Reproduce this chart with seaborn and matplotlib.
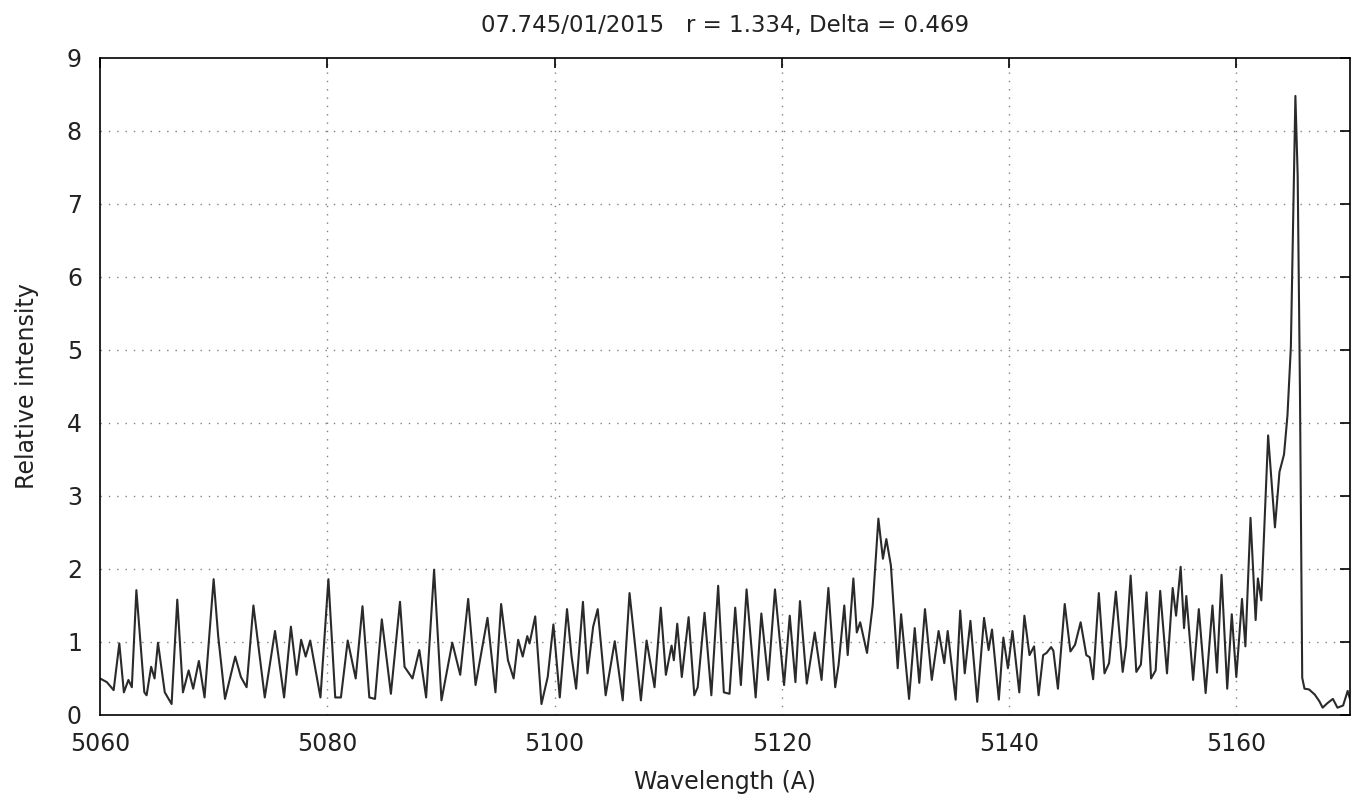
import matplotlib
matplotlib.use("Agg")
import matplotlib.pyplot as plt
import seaborn as sns
import pandas as pd

# Spectrum samples: wavelength (Angstrom) and relative intensity
wavelength = [
    5060.0, 5060.6, 5061.2, 5061.7, 5062.1, 5062.5, 5062.8, 5063.2, 5063.9, 5064.1,
    5064.5, 5064.8, 5065.1, 5065.7, 5066.3, 5066.8, 5067.3, 5067.8, 5068.2, 5068.7,
    5069.2, 5070.0, 5070.4, 5071.0, 5071.9, 5072.4, 5072.9, 5073.5, 5074.5, 5075.4,
    5076.2, 5076.8, 5077.3, 5077.7, 5078.1, 5078.5, 5079.4, 5080.1, 5080.7, 5081.2,
    5081.8, 5082.5, 5083.1, 5083.7, 5084.2, 5084.8, 5085.6, 5086.4, 5086.8, 5087.5,
    5088.1, 5088.7, 5089.4, 5090.05, 5091.0, 5091.7, 5092.4, 5093.05, 5094.1, 5094.8,
    5095.3, 5095.9, 5096.4, 5096.8, 5097.2, 5097.6, 5097.8, 5098.3, 5098.85, 5099.4,
    5099.9, 5100.46, 5101.1, 5101.5, 5101.9, 5102.5, 5102.9, 5103.4, 5103.8, 5104.5,
    5105.3, 5106.0, 5106.6, 5107.6, 5108.1, 5108.8, 5109.35, 5109.8, 5110.3, 5110.5,
    5110.8, 5111.2, 5111.8, 5112.3, 5112.6, 5113.2, 5113.8, 5114.4, 5114.9, 5115.4,
    5115.9, 5116.4, 5116.9, 5117.7, 5118.2, 5118.8, 5119.4, 5120.2, 5120.7, 5121.2,
    5121.6, 5122.2, 5122.9, 5123.5, 5124.1, 5124.7, 5125.0, 5125.5, 5125.8, 5126.3,
    5126.6, 5126.9, 5127.5, 5128.0, 5128.5, 5128.9, 5129.2, 5129.6, 5130.2, 5130.5,
    5131.2, 5131.7, 5132.1, 5132.6, 5133.2, 5133.8, 5134.3, 5134.6, 5135.3, 5135.7,
    5136.1, 5136.6, 5137.2, 5137.8, 5138.2, 5138.5, 5139.1, 5139.5, 5139.9, 5140.3,
    5140.9, 5141.35, 5141.8, 5142.2, 5142.6, 5143.0, 5143.3, 5143.7, 5143.9, 5144.3,
    5144.9, 5145.4, 5145.8, 5146.3, 5146.8, 5147.1, 5147.4, 5147.9, 5148.4, 5148.8,
    5149.4, 5150.0, 5150.3, 5150.7, 5151.2, 5151.6, 5152.1, 5152.5, 5152.9, 5153.3,
    5153.9, 5154.4, 5154.7, 5155.1, 5155.4, 5155.6, 5156.2, 5156.7, 5157.3, 5157.9,
    5158.3, 5158.7, 5159.2, 5159.6, 5160.0, 5160.5, 5160.8, 5161.25, 5161.7, 5161.9,
    5162.2, 5162.8, 5163.4, 5163.8, 5164.2, 5164.5, 5164.8, 5165.2, 5165.4, 5165.6,
    5165.8, 5166.0, 5166.4, 5166.9, 5167.3, 5167.6, 5168.0, 5168.5, 5168.9, 5169.4,
    5169.8, 5170.0,
]
intensity = [
    0.50, 0.45, 0.34, 0.98, 0.31, 0.48, 0.38, 1.71, 0.31, 0.27,
    0.66, 0.50, 0.99, 0.31, 0.15, 1.58, 0.31, 0.61, 0.36, 0.74,
    0.24, 1.86, 1.08, 0.22, 0.80, 0.52, 0.38, 1.50, 0.24, 1.15,
    0.24, 1.21, 0.55, 1.03, 0.80, 1.02, 0.24, 1.86, 0.24, 0.24,
    1.02, 0.50, 1.49, 0.24, 0.22, 1.31, 0.29, 1.55, 0.66, 0.50,
    0.89, 0.24, 1.99, 0.20, 0.99, 0.55, 1.59, 0.41, 1.33, 0.31,
    1.52, 0.75, 0.50, 1.03, 0.80, 1.08, 0.98, 1.35, 0.15, 0.52,
    1.24, 0.24, 1.45, 0.80, 0.36, 1.55, 0.57, 1.21, 1.45, 0.27,
    1.01, 0.20, 1.67, 0.20, 1.02, 0.38, 1.47, 0.55, 0.95, 0.75,
    1.25, 0.52, 1.34, 0.27, 0.38, 1.40, 0.27, 1.77, 0.31, 0.29,
    1.47, 0.41, 1.72, 0.24, 1.39, 0.48, 1.72, 0.41, 1.36, 0.45,
    1.56, 0.43, 1.13, 0.48, 1.74, 0.38, 0.69, 1.50, 0.82, 1.87,
    1.13, 1.27, 0.85, 1.50, 2.69, 2.14, 2.41, 2.05, 0.64, 1.38,
    0.22, 1.19, 0.44, 1.45, 0.48, 1.15, 0.71, 1.15, 0.21, 1.43,
    0.57, 1.29, 0.18, 1.33, 0.89, 1.17, 0.21, 1.06, 0.64, 1.15,
    0.31, 1.36, 0.82, 0.94, 0.27, 0.82, 0.85, 0.93, 0.88, 0.36,
    1.52, 0.87, 0.96, 1.27, 0.82, 0.79, 0.49, 1.67, 0.57, 0.71,
    1.69, 0.59, 0.94, 1.91, 0.59, 0.69, 1.68, 0.50, 0.61, 1.70,
    0.57, 1.74, 1.36, 2.03, 1.19, 1.63, 0.48, 1.45, 0.30, 1.50,
    0.58, 1.92, 0.36, 1.38, 0.52, 1.59, 0.94, 2.70, 1.30, 1.87,
    1.57, 3.83, 2.57, 3.33, 3.57, 4.10, 5.04, 8.48, 7.39, 4.45,
    0.51, 0.36, 0.35, 0.28, 0.19, 0.10, 0.16, 0.22, 0.10, 0.13,
    0.33, 0.22,
]

x_ticks = [5060, 5080, 5100, 5120, 5140, 5160]
y_ticks = [0, 1, 2, 3, 4, 5, 6, 7, 8, 9]
title = "07.745/01/2015   r = 1.334, Delta = 0.469"

sns.set_theme(style="white")
plt.rcParams["font.family"] = ["DejaVu Sans"]

df = pd.DataFrame({"Wavelength": wavelength, "Intensity": intensity})

fig = plt.figure(figsize=(13.57, 8.01), dpi=100)
ax = fig.add_axes([0.0737, 0.1074, 0.9211, 0.8202])

sns.lineplot(data=df, x="Wavelength", y="Intensity", ax=ax, sort=False,
             estimator=None, color="#2a2a2a", linewidth=1.5)

ax.set_xlim(5060, 5170)
ax.set_ylim(0, 9)
ax.set_xticks(x_ticks)
ax.set_yticks(y_ticks)
ax.tick_params(axis="both", which="both", direction="in", length=7, width=1.2,
               top=True, right=True, labelsize=17, colors="black")
ax.tick_params(axis="y", pad=13)
ax.tick_params(axis="x", pad=12)
for lab in ax.get_xticklabels() + ax.get_yticklabels():
    lab.set_color("#222222")

# dotted grid, skipping the frame edges
for xv in x_ticks[1:]:
    ax.axvline(xv, color="#808080", linewidth=1.0, linestyle=(0, (1, 5)), zorder=0)
for yv in y_ticks[1:-1]:
    ax.axhline(yv, color="#808080", linewidth=1.0, linestyle=(0, (1, 5)), zorder=0)

for spine in ax.spines.values():
    spine.set_color("black")
    spine.set_linewidth(1.2)

ax.set_xlabel("Wavelength (A)", fontsize=17, color="#222222", labelpad=10)
ax.set_ylabel("Relative intensity", fontsize=17, color="#222222", labelpad=20)
ax.set_title(title, fontsize=16.5, color="#222222", pad=19)

fig.savefig("out.png", dpi=100)
